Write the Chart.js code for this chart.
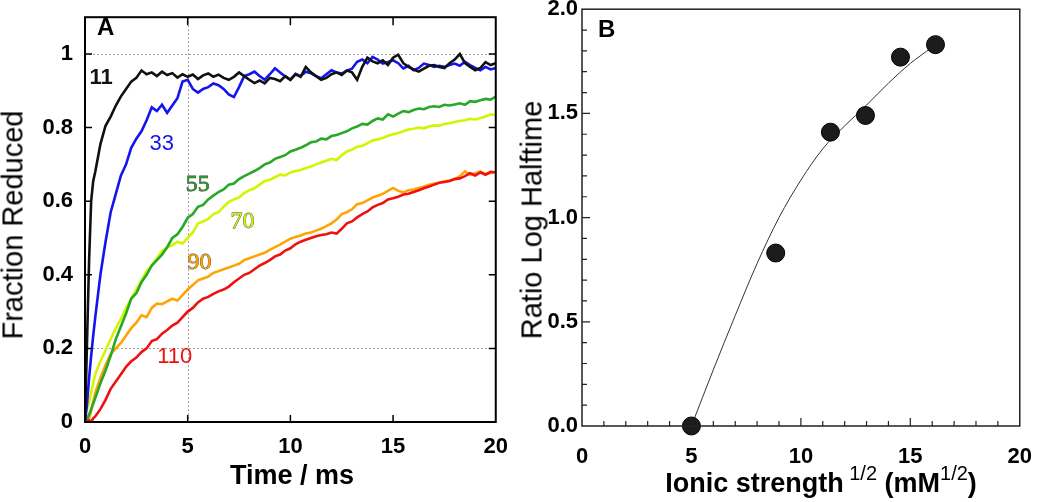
<!DOCTYPE html>
<html><head><meta charset="utf-8">
<script src="https://cdn.jsdelivr.net/npm/chart.js@4.4.1/dist/chart.umd.min.js"></script>
<style>
html,body{margin:0;padding:0;background:#fff;overflow:hidden;}
#wrap{position:relative;width:1050px;height:502px;overflow:hidden;}
canvas{position:absolute;}
.t{position:absolute;font-family:"Liberation Sans",Arial,sans-serif;color:#000;white-space:nowrap;line-height:1;}
.rot{transform:translate(-50%,-50%) rotate(-90deg);}
.sup{font-size:20px;font-weight:normal;position:relative;top:-12px;}
</style></head><body>
<div id="wrap">
<canvas id="cA" width="520" height="510" style="left:0;top:-8px"></canvas>
<canvas id="cB" width="530" height="510" style="left:520px;top:-8px"></canvas>
<div class="t rot" style="left:13px;top:225px;font-size:29px;">Fraction Reduced</div>
<div class="t" style="left:292px;top:462px;font-size:27px;font-weight:bold;transform:translateX(-50%);">Time / ms</div>
<div class="t rot" style="left:532px;top:220px;font-size:29px;">Ratio Log Halftime</div>
<div class="t" style="left:821px;top:470px;font-size:27px;font-weight:bold;transform:translateX(-50%);">Ionic strength<span class="sup"> 1/2</span> (mM<span class="sup">1/2</span>)</div>
<div class="t" style="left:97px;top:15px;font-size:24px;font-weight:bold;">A</div>
<div class="t" style="left:598px;top:17px;font-size:24px;font-weight:bold;">B</div>
</div>
<script>
// ---------- Panel A data ----------
const time = [0,0.1,0.2,0.3,0.4,0.5,0.75,1,
1.25,1.5,1.75,2,2.25,2.5,2.75,3,3.25,3.5,3.75,4,4.25,4.5,4.75,5,
5.25,5.5,5.75,6,6.25,6.5,6.75,7,7.25,7.5,7.75,8,8.25,8.5,8.75,9,
9.25,9.5,9.75,10,10.25,10.5,10.75,11,11.25,11.5,11.75,12,12.25,12.5,12.75,13,
13.25,13.5,13.75,14,14.25,14.5,14.75,15,15.25,15.5,15.75,16,16.25,16.5,16.75,17,
17.25,17.5,17.75,18,18.25,18.5,18.75,19,19.25,19.5,19.75,20];

const black11 = [0,0.22,0.44,0.6,0.655,0.68,0.755,0.805,
0.83,0.86,0.885,0.905, 0.925,0.935,0.955,0.945, 0.95,0.94,0.952,0.943,
0.948,0.936,0.945,0.938, 0.944,0.932,0.942,0.947, 0.938,0.944,0.935,0.93,
0.938,0.95,0.94,0.93, 0.921,0.928,0.92,0.935, 0.932,0.926,0.94,0.93,
0.945,0.938,0.965,0.95, 0.94,0.93,0.935,0.945, 0.95,0.943,0.955,0.95,
0.93,0.965,0.99,0.98, 0.975,0.983,0.97,0.99, 0.998,0.975,0.965,0.958,
0.952,0.96,0.968,0.97, 0.965,0.962,0.975,0.985, 1.0,0.975,0.965,0.956,
0.962,0.978,0.97,0.975];

const blue33 = [0,0.05,0.12,0.18,0.235,0.285,0.40,0.49,
0.57,0.62,0.67,0.70, 0.745,0.77,0.79,0.82, 0.855,0.845,0.862,0.84,
0.86,0.88,0.925,0.93, 0.905,0.895,0.905,0.91, 0.92,0.915,0.905,0.89,
0.883,0.91,0.94,0.945, 0.952,0.94,0.93,0.945, 0.961,0.95,0.939,0.93,
0.946,0.94,0.952,0.948, 0.94,0.934,0.945,0.956, 0.95,0.947,0.955,0.96,
0.979,0.985,0.975,0.992, 0.985,0.974,0.978,0.983, 0.975,0.961,0.968,0.956,
0.962,0.974,0.97,0.965, 0.968,0.965,0.97,0.974, 0.968,0.979,0.97,0.962,
0.956,0.965,0.958,0.962];

const green55 = [0,0.01,0.02,0.035,0.05,0.065,0.105,0.14,
0.18,0.225,0.26,0.295, 0.335,0.35,0.38,0.40, 0.425,0.44,0.455,0.475,
0.50,0.51,0.53,0.555, 0.565,0.585,0.59,0.605, 0.615,0.625,0.632,0.645,
0.648,0.66,0.668,0.675, 0.682,0.69,0.70,0.705, 0.715,0.72,0.725,0.735,
0.74,0.745,0.752,0.76, 0.762,0.77,0.768,0.777, 0.78,0.785,0.79,0.798,
0.803,0.81,0.808,0.818, 0.825,0.822,0.836,0.83, 0.838,0.845,0.842,0.848,
0.852,0.85,0.856,0.858, 0.856,0.862,0.86,0.863, 0.866,0.862,0.872,0.87,
0.874,0.878,0.876,0.884];

const yellow70 = [0.02,0.035,0.055,0.08,0.105,0.13,0.165,0.195,
0.225,0.255,0.28,0.31, 0.335,0.36,0.385,0.41, 0.425,0.445,0.465,0.475,
0.48,0.49,0.485,0.50, 0.515,0.54,0.545,0.552, 0.565,0.57,0.585,0.598,
0.605,0.61,0.622,0.63, 0.635,0.645,0.655,0.658, 0.665,0.672,0.67,0.678,
0.682,0.685,0.69,0.694, 0.70,0.705,0.71,0.715, 0.712,0.725,0.735,0.74,
0.748,0.75,0.758,0.765, 0.768,0.772,0.778,0.782, 0.785,0.79,0.795,0.797,
0.80,0.798,0.803,0.806, 0.805,0.81,0.812,0.815, 0.818,0.82,0.824,0.822,
0.826,0.83,0.836,0.834];

const orange90 = [0,0,0.01,0.03,0.055,0.08,0.12,0.155,
0.185,0.20,0.215,0.235, 0.255,0.27,0.29,0.285, 0.31,0.322,0.32,0.328,
0.335,0.33,0.345,0.36, 0.372,0.385,0.39,0.395, 0.405,0.41,0.415,0.42,
0.425,0.43,0.44,0.445, 0.45,0.455,0.46,0.468, 0.475,0.482,0.49,0.498,
0.503,0.507,0.512,0.515, 0.52,0.525,0.532,0.54, 0.55,0.565,0.57,0.578,
0.592,0.595,0.602,0.61, 0.615,0.62,0.628,0.636, 0.628,0.624,0.63,0.632,
0.636,0.64,0.645,0.648, 0.65,0.654,0.656,0.66, 0.668,0.681,0.672,0.676,
0.681,0.674,0.676,0.68];

const red110 = [0,0,0.005,0,0.01,0.015,0.035,0.06,
0.09,0.11,0.13,0.15, 0.165,0.175,0.19,0.2, 0.22,0.225,0.24,0.25,
0.262,0.27,0.285,0.30, 0.31,0.325,0.335,0.34, 0.348,0.355,0.36,0.368,
0.38,0.39,0.40,0.405, 0.415,0.425,0.432,0.44, 0.45,0.455,0.466,0.472,
0.483,0.49,0.495,0.50, 0.505,0.508,0.51,0.515, 0.512,0.525,0.54,0.545,
0.556,0.565,0.572,0.583, 0.59,0.595,0.605,0.608, 0.612,0.618,0.62,0.625,
0.63,0.635,0.64,0.645, 0.65,0.652,0.655,0.66, 0.662,0.668,0.676,0.67,
0.678,0.672,0.68,0.678];

const seriesNames = ['11','33','55','70','90','110'];
const seriesA = [black11, blue33, green55, yellow70, orange90, red110];
const colorsA = ['#111111','#1414f0','#28a828','#d2f500','#ffa400','#ee1111'];
const xTicksA = [5,10,15];
const yTicksA = [0.2,0.4,0.6,0.8,1.0];
const dottedX = [5];
const dottedY = [0.2,1.0];

// label positions in data units (time, fraction)
const labelT = [0.78,3.74,5.49,7.67,5.58,4.37];
const labelV = [0.936,0.755,0.645,0.544,0.432,0.176];

// ---------- Panel B data ----------
const ionicX = [5,8.85,11.35,12.95,14.55,16.15];
const ratioY = [0,0.83,1.41,1.49,1.77,1.83];
const fitX = [5,6,7,8,9,10,11,12,13,14,15,16,16.15];
const fitY = [0,0.27,0.53,0.78,1.0,1.18,1.33,1.44,1.54,1.645,1.74,1.82,1.835];

const tickFont = {family:'"Liberation Sans", Arial, sans-serif', size:22, weight:'bold'};

function pts(xs, ys){ return xs.map((x,i)=>({x:x, y:ys[i]})); }

const frameA = {
  id:'frameA',
  beforeDatasetsDraw(chart){
    const {ctx, chartArea:a, scales:{x,y}} = chart;
    ctx.save();
    ctx.strokeStyle = '#a0a0a0'; ctx.lineWidth = 1; ctx.setLineDash([2,2]);
    dottedY.forEach(v=>{ const p=Math.round(y.getPixelForValue(v))+0.5; ctx.beginPath(); ctx.moveTo(a.left,p); ctx.lineTo(a.right,p); ctx.stroke(); });
    dottedX.forEach(v=>{ const p=Math.round(x.getPixelForValue(v))+0.5; ctx.beginPath(); ctx.moveTo(p,a.top); ctx.lineTo(p,a.bottom); ctx.stroke(); });
    ctx.restore();
  },
  afterDatasetsDraw(chart){
    const {ctx, chartArea:a, scales:{x,y}} = chart;
    ctx.save();
    ctx.strokeStyle = '#000'; ctx.lineWidth = 2;
    ctx.strokeRect(a.left, a.top, a.right-a.left, a.bottom-a.top);
    ctx.lineWidth = 1.5;
    ctx.beginPath();
    xTicksA.forEach(v=>{ const p=x.getPixelForValue(v);
      ctx.moveTo(p,a.bottom); ctx.lineTo(p,a.bottom-7);
      ctx.moveTo(p,a.top); ctx.lineTo(p,a.top+8); });
    yTicksA.forEach(v=>{ const p=y.getPixelForValue(v);
      ctx.moveTo(a.left,p); ctx.lineTo(a.left+7,p);
      ctx.moveTo(a.right,p); ctx.lineTo(a.right-7,p); });
    ctx.stroke();
    // curve labels
    ctx.textAlign='center'; ctx.textBaseline='middle';
    seriesNames.forEach((n,i)=>{
      const px = x.getPixelForValue(labelT[i]), py = y.getPixelForValue(labelV[i]);
      if (i===0) ctx.font = 'bold 22px "Liberation Sans", Arial, sans-serif';
      else if (i===2||i===3||i===4) ctx.font = '24px "Liberation Serif", "Times New Roman", serif';
      else ctx.font = '22px "Liberation Sans", Arial, sans-serif';
      if (i===2||i===3||i===4){ ctx.lineWidth=0.8; ctx.strokeStyle='#444'; ctx.strokeText(n,px,py); }
      ctx.fillStyle = i===2 ? '#2a9a2a' : colorsA[i];
      ctx.fillText(n,px,py);
    });
    ctx.restore();
  }
};

new Chart(document.getElementById('cA'), {
  type:'scatter',
  data:{ datasets: seriesA.map((s,i)=>({
    label: seriesNames[i], data: pts(time, s), showLine:true, borderColor:colorsA[i],
    backgroundColor:colorsA[i], borderWidth:2.6, pointRadius:0, tension:0, order: i===5?0:i+1
  }))},
  options:{
    responsive:false, animation:false,
    layout:{padding:{top:16,right:23,left:0,bottom:0}},
    plugins:{legend:{display:false}, tooltip:{enabled:false}},
    scales:{
      x:{type:'linear', min:0, max:20,
        ticks:{stepSize:5, font:tickFont, color:'#000', padding:12, maxRotation:0},
        grid:{display:false, drawTicks:false}, border:{display:false},
        afterFit(s){ s.height = 80; }},
      y:{type:'linear', min:0, max:1.1,
        ticks:{stepSize:0.2, includeBounds:false, font:tickFont, color:'#000', padding:12,
          callback:v=>String(Number(v.toFixed(1)))},
        grid:{display:false, drawTicks:false}, border:{display:false},
        afterFit(s){ s.width = 85; }}
    }
  },
  plugins:[frameA]
});

const frameB = {
  id:'frameB',
  afterDatasetsDraw(chart){
    const {ctx, chartArea:a, scales:{x,y}} = chart;
    ctx.save();
    ctx.strokeStyle = '#222'; ctx.lineWidth = 1.5;
    ctx.strokeRect(a.left, a.top, a.right-a.left, a.bottom-a.top);
    ctx.lineWidth = 1.2;
    ctx.beginPath();
    for (let v=1; v<20; v++){ const p=x.getPixelForValue(v); const L=(v%5===0)?8:5;
      ctx.moveTo(p,a.bottom); ctx.lineTo(p,a.bottom-L); }
    for (let k=1; k<20; k++){ const p=y.getPixelForValue(k/10); const L=(k%5===0)?8:5;
      ctx.moveTo(a.left,p); ctx.lineTo(a.left+L,p); }
    ctx.stroke();
    ctx.restore();
  }
};

new Chart(document.getElementById('cB'), {
  type:'scatter',
  data:{ datasets:[
    {label:'data', data: pts(ionicX, ratioY), showLine:false, pointRadius:9, pointHoverRadius:9,
     backgroundColor:'#1c1c1c', borderColor:'#000', borderWidth:1, clip:false, order:0},
    {label:'fit', data: pts(fitX, fitY), showLine:true, pointRadius:0, borderColor:'#333',
     borderWidth:1, cubicInterpolationMode:'monotone', order:1}
  ]},
  options:{
    responsive:false, animation:false,
    layout:{padding:{top:16,right:20,left:0,bottom:0}},
    plugins:{legend:{display:false}, tooltip:{enabled:false}},
    scales:{
      x:{type:'linear', min:0, max:20,
        ticks:{stepSize:5, font:tickFont, color:'#000', padding:18, maxRotation:0},
        grid:{display:false, drawTicks:false}, border:{display:false},
        afterFit(s){ s.height = 76; }},
      y:{type:'linear', min:0, max:2.0,
        ticks:{stepSize:0.5, font:tickFont, color:'#000', padding:4, callback:v=>v.toFixed(1)},
        grid:{display:false, drawTicks:false}, border:{display:false},
        afterFit(s){ s.width = 62; }}
    }
  },
  plugins:[frameB]
});
</script>
</body></html>
